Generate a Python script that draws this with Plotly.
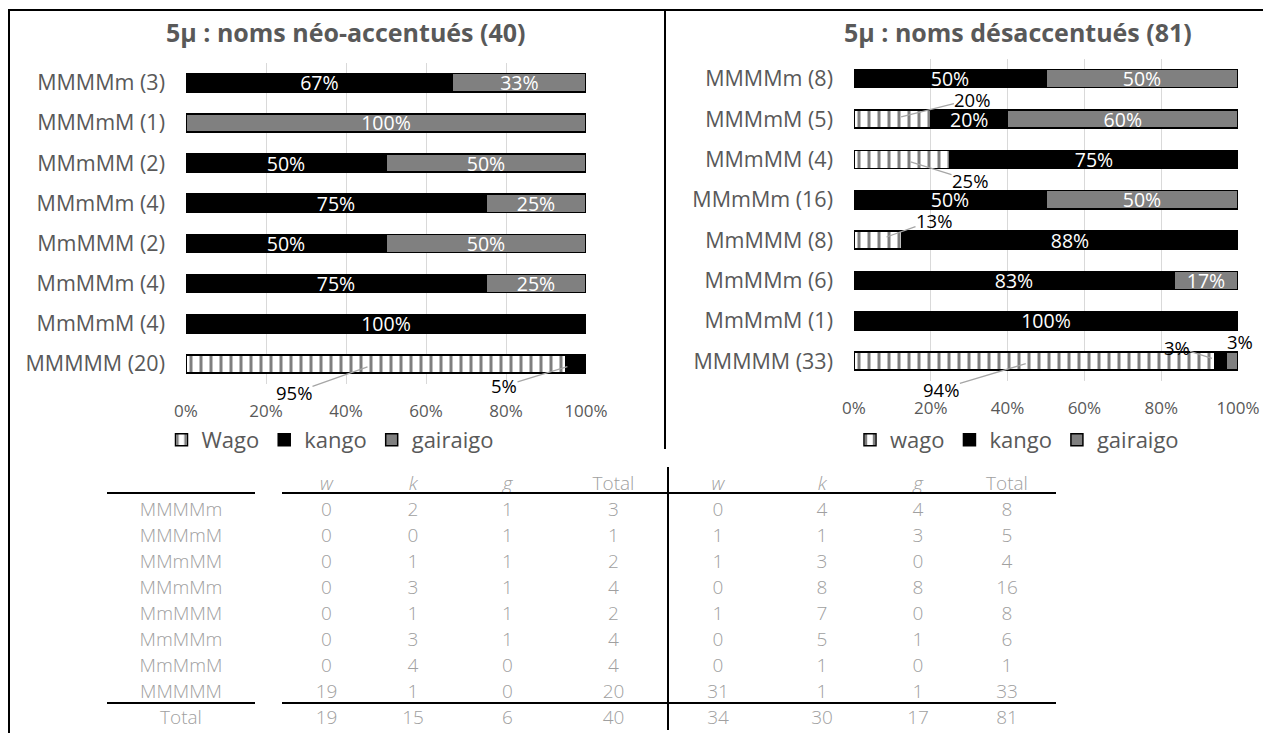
import plotly.graph_objects as go

# the page puts an 8px margin around the figure
OFF = 8
W, H = 1271 - OFF, 733 - OFF

# accent patterns (rows, top to bottom)
patterns = ['MMMMm', 'MMMmM', 'MMmMM', 'MMmMm', 'MmMMM', 'MmMMm', 'MmMmM', 'MMMMM']

# counts: noms néo-accentués
neo_wago = [0, 0, 0, 0, 0, 0, 0, 19]
neo_kango = [2, 0, 1, 3, 1, 3, 4, 1]
neo_gairaigo = [1, 1, 1, 1, 1, 1, 0, 0]

# counts: noms désaccentués
des_wago = [0, 1, 1, 0, 1, 0, 0, 31]
des_kango = [4, 1, 3, 8, 7, 5, 1, 1]
des_gairaigo = [4, 3, 0, 8, 0, 1, 0, 1]

titles = ['5µ : noms néo-accentués (40)', '5µ : noms désaccentués (81)']
legend_names = [['Wago', 'kango', 'gairaigo'], ['wago', 'kango', 'gairaigo']]
table_heads = ['w', 'k', 'g', 'Total']

FONT = 'Open Sans'
GREY = '#595959'


def px_x(p):
    return (p - OFF) / W


def px_y(p):
    return 1 - (p - OFF) / H


def pct(v, t):
    return int(100 * v / t + 0.5)


panels = [[neo_wago, neo_kango, neo_gairaigo], [des_wago, des_kango, des_gairaigo]]

# labels placed outside the bars: (panel, series, row, ax, ay, leader line)
outside = [
    (0, 0, 7, -82, 29, True),
    (0, 1, 7, -72, 22, True),
    (1, 0, 1, 80, -20, True),
    (1, 0, 2, 68, 21, True),
    (1, 0, 4, 56, -20, True),
    (1, 0, 7, -93, 28, True),
    (1, 1, 7, -44, -14, True),
    (1, 2, 7, 8, -20, False),
]
outside_keys = {(p, s, r) for p, s, r, *_ in outside}

markers = [
    dict(color='white', pattern=dict(shape='|', fgcolor='black', bgcolor='white',
                                     size=10, solidity=0.3)),
    dict(color='black'),
    dict(color='#808080'),
]

fig = go.Figure()
annotations = []

for p, counts in enumerate(panels):
    totals = [sum(c) for c in zip(*counts)]
    labels = [f'{pat} ({t})' for pat, t in zip(patterns, totals)]
    ax_suffix = '' if p == 0 else '2'
    for s, vals in enumerate(counts):
        text = []
        for r, v in enumerate(vals):
            if v == 0 or (p, s, r) in outside_keys:
                text.append('')
            else:
                text.append(f'{pct(v, totals[r])}%')
        fig.add_trace(go.Bar(
            y=labels, x=vals, orientation='h',
            name=legend_names[p][s],
            marker=dict(**markers[s], line=dict(color='black', width=1.5)),
            text=text, textposition='inside', insidetextanchor='middle',
            constraintext='none', textangle=0,
            textfont=dict(family=FONT, size=19.5, color='white'),
            xaxis='x' + ax_suffix, yaxis='y' + ax_suffix,
            legend='legend' if p == 0 else 'legend2',
            hoverinfo='skip',
        ))

    for pp, s, r, ax, ay, leader in outside:
        if pp != p:
            continue
        start = sum(counts[k][r] for k in range(s))
        mid = 100 * (start + counts[s][r] / 2) / totals[r]
        a = dict(x=mid, y=labels[r], xref='x' + ax_suffix, yref='y' + ax_suffix,
                 text=f'{pct(counts[s][r], totals[r])}%', borderpad=0,
                 font=dict(family=FONT, size=18.5, color='black'))
        if leader:
            a.update(showarrow=True, ax=ax, ay=ay, arrowhead=0, arrowwidth=1.3,
                     arrowcolor='#a6a6a6', standoff=9)
        else:
            a.update(showarrow=False, xshift=ax, yshift=-ay)
        annotations.append(a)

# panel titles
for x, t in zip([346, 1018], titles):
    annotations.append(dict(x=px_x(x), y=px_y(32), xref='paper', yref='paper',
                            xanchor='center', yanchor='middle',
                            text=f'<b>{t}</b>', showarrow=False,
                            font=dict(family=FONT, size=25, color=GREY)))

axis_common = dict(
    range=[0, 100], dtick=20, ticksuffix='%', showgrid=True, gridcolor='#d9d9d9',
    gridwidth=1.3, zeroline=False, showline=False, ticks='',
    tickfont=dict(family=FONT, size=17, color=GREY), ticklabelstandoff=15,
    automargin=False, fixedrange=True,
)
yaxis_common = dict(
    type='category', range=[7.5, -0.5], showgrid=False, zeroline=False,
    ticks='', tickfont=dict(family=FONT, size=21.5, color=GREY),
    ticklabelstandoff=20, automargin=False, fixedrange=True,
)

legend_common = dict(orientation='h', xanchor='center', yanchor='middle',
                     font=dict(family=FONT, size=22, color=GREY), itemwidth=30,
                     bgcolor='rgba(0,0,0,0)', traceorder='normal')

# table
neo_tot = [a + b + c for a, b, c in zip(neo_wago, neo_kango, neo_gairaigo)]
des_tot = [a + b + c for a, b, c in zip(des_wago, des_kango, des_gairaigo)]


def col(vals):
    return [str(v) for v in vals] + [str(sum(vals))]


TGREY = '#a0a0a0'
clear = 'rgba(0,0,0,0)'
head_style = ['italic', 'italic', 'italic', 'normal']

fig.add_trace(go.Table(
    domain=dict(x=[px_x(107), px_x(667)], y=[0, px_y(468)]),
    columnwidth=[148, 27, 89, 84, 105, 107],
    header=dict(values=['', ''] + table_heads, height=26, align='center',
                font=dict(family=FONT, size=19, color=TGREY, weight=300,
                          style=['normal', 'normal'] + head_style),
                fill_color=clear, line_color=clear),
    cells=dict(values=[patterns + ['Total'], [''] * 9, col(neo_wago), col(neo_kango),
                       col(neo_gairaigo), col(neo_tot)],
               height=26, align='center',
               font=dict(family=FONT, size=19, color=TGREY, weight=300),
               fill_color=clear, line_color=clear),
))
fig.add_trace(go.Table(
    domain=dict(x=[px_x(669), px_x(1055)], y=[0, px_y(468)]),
    columnwidth=[98, 110, 82, 96],
    header=dict(values=table_heads, height=26, align='center',
                font=dict(family=FONT, size=19, color=TGREY, weight=300, style=head_style),
                fill_color=clear, line_color=clear),
    cells=dict(values=[col(des_wago), col(des_kango), col(des_gairaigo), col(des_tot)],
               height=26, align='center',
               font=dict(family=FONT, size=19, color=TGREY, weight=300),
               fill_color=clear, line_color=clear),
))


def line(x0, y0, x1, y1, w=2):
    return dict(type='line', xref='paper', yref='paper', x0=px_x(x0), y0=px_y(y0),
                x1=px_x(x1), y1=px_y(y1), line=dict(color='black', width=w))


shapes = [
    dict(type='rect', xref='paper', yref='paper', x0=px_x(9), y0=px_y(760),
         x1=px_x(1266), y1=px_y(10), line=dict(color='black', width=2)),
    line(665, 10, 665, 449),
    line(668, 467, 668, 730),
    line(107, 493, 255, 493),
    line(282, 493, 1056, 493),
    line(107, 703, 255, 703),
    line(282, 703, 1056, 703),
]

fig.update_layout(
    width=W, height=H, margin=dict(l=0, r=0, t=0, b=0), autosize=False,
    paper_bgcolor='white', plot_bgcolor='white',
    barmode='stack', barnorm='percent', bargap=0.55,
    font=dict(family=FONT, color=GREY),
    xaxis=dict(domain=[px_x(186), px_x(586)], anchor='y', **axis_common),
    yaxis=dict(domain=[px_y(384), px_y(62.7)], anchor='x', **yaxis_common),
    xaxis2=dict(domain=[px_x(854), px_x(1238)], anchor='y2', **axis_common),
    yaxis2=dict(domain=[px_y(381.2), px_y(58.5)], anchor='x2', **yaxis_common),
    legend=dict(x=px_x(330), y=px_y(440), **legend_common),
    legend2=dict(x=px_x(1017), y=px_y(440), **legend_common),
    annotations=annotations,
    shapes=shapes,
)

fig.write_html('out.html')
